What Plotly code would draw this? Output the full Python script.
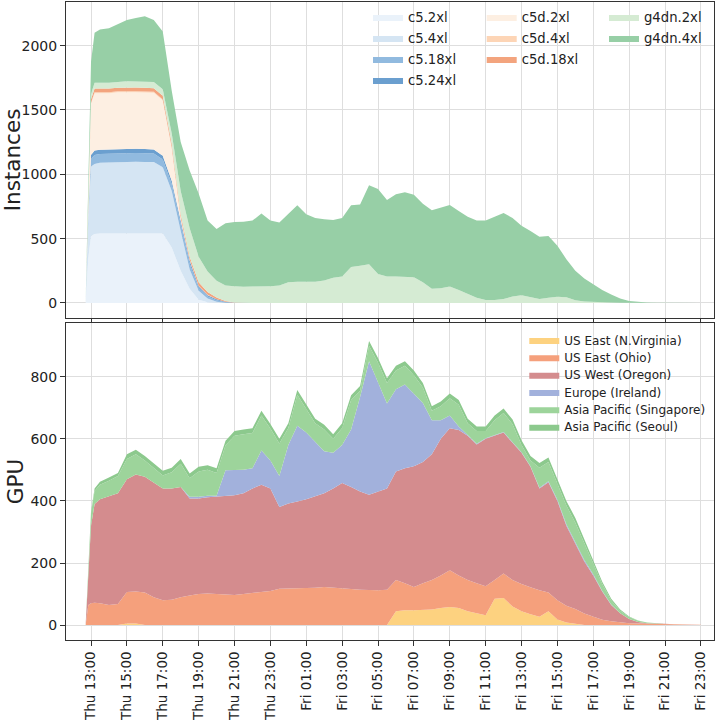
import pandas as pd
import plotly.graph_objects as go

# ---------------- data ----------------
HOURS = [12.7, 12.85, 13.0, 13.2, 13.5,
         14.0, 14.5, 15.0, 15.5, 16.0, 16.5, 17.0, 17.5, 18.0, 18.5,
         19.0, 19.5, 20.0, 20.5, 21.0, 21.5, 22.0, 22.5, 23.0, 23.5,
         24.0, 24.5, 25.0, 25.5, 26.0, 26.5, 27.0, 27.5, 28.0, 28.5,
         29.0, 29.5, 30.0, 30.5, 31.0, 31.5, 32.0, 32.5, 33.0, 33.5,
         34.0, 34.5, 35.0, 35.5, 36.0, 36.5, 37.0, 37.5, 38.0, 38.5,
         39.0, 39.5, 40.0, 40.5, 41.0, 41.5, 42.0, 42.5, 43.0, 43.5,
         44.0, 44.5, 45.0, 45.5, 46.0, 46.5, 47.0]
BASE = pd.Timestamp("2020-11-19")  # a Thursday
TIMES = BASE + pd.to_timedelta(HOURS, unit="h")

INSTANCE_TYPES = ["c5.2xl", "c5.4xl", "c5.18xl", "c5.24xl",
                  "c5d.2xl", "c5d.4xl", "c5d.18xl", "g4dn.2xl", "g4dn.4xl"]

C5_2XL = [0, 350, 520, 535, 540,
          540, 542, 543, 542, 540, 540, 540, 430, 250, 110,
          25, 5, 0, 0, 0, 0, 0, 0, 0, 0,
          0, 0, 0, 0, 0, 0, 0, 0, 0, 0,
          0, 0, 0, 0, 0, 0, 0, 0, 0, 0,
          0, 0, 0, 0, 0, 0, 0, 0, 0, 0,
          0, 0, 0, 0, 0, 0, 0, 0, 0, 0,
          0, 0, 0, 0, 0, 0, 0]
C5_4XL = [0, 300, 540, 545, 550,
          552, 555, 555, 556, 556, 555, 515, 440, 310, 150,
          70, 30, 10, 2, 0, 0, 0, 0, 0, 0,
          0, 0, 0, 0, 0, 0, 0, 0, 0, 0,
          0, 0, 0, 0, 0, 0, 0, 0, 0, 0,
          0, 0, 0, 0, 0, 0, 0, 0, 0, 0,
          0, 0, 0, 0, 0, 0, 0, 0, 0, 0,
          0, 0, 0, 0, 0, 0, 0]
C5_18XL = [0, 30, 60, 70, 68,
           68, 68, 68, 68, 68, 66, 60, 55, 55, 45,
           22, 15, 10, 4, 1, 0, 0, 0, 0, 0,
           0, 0, 0, 0, 0, 0, 0, 0, 0, 0,
           0, 0, 0, 0, 0, 0, 0, 0, 0, 0,
           0, 0, 0, 0, 0, 0, 0, 0, 0, 0,
           0, 0, 0, 0, 0, 0, 0, 0, 0, 0,
           0, 0, 0, 0, 0, 0, 0]
C5_24XL = [0, 15, 30, 35, 32,
           32, 32, 32, 32, 32, 32, 30, 25, 25, 25,
           13, 10, 8, 3, 1, 0, 0, 0, 0, 0,
           0, 0, 0, 0, 0, 0, 0, 0, 0, 0,
           0, 0, 0, 0, 0, 0, 0, 0, 0, 0,
           0, 0, 0, 0, 0, 0, 0, 0, 0, 0,
           0, 0, 0, 0, 0, 0, 0, 0, 0, 0,
           0, 0, 0, 0, 0, 0, 0]
C5D_2XL = [0, 150, 400, 445, 440,
           438, 440, 442, 440, 440, 440, 430, 255, 20, 5,
           2, 1, 0, 0, 0, 0, 0, 0, 0, 0,
           0, 0, 0, 0, 0, 0, 0, 0, 0, 0,
           0, 0, 0, 0, 0, 0, 0, 0, 0, 0,
           0, 0, 0, 0, 0, 0, 0, 0, 0, 0,
           0, 0, 0, 0, 0, 0, 0, 0, 0, 0,
           0, 0, 0, 0, 0, 0, 0]
C5D_4XL = [0, 3, 8, 8, 8,
           8, 8, 8, 8, 8, 8, 7, 5, 4, 3,
           2, 2, 0, 0, 0, 0, 0, 0, 0, 0,
           0, 0, 0, 0, 0, 0, 0, 0, 0, 0,
           0, 0, 0, 0, 0, 0, 0, 0, 0, 0,
           0, 0, 0, 0, 0, 0, 0, 0, 0, 0,
           0, 0, 0, 0, 0, 0, 0, 0, 0, 0,
           0, 0, 0, 0, 0, 0, 0]
C5D_18XL = [0, 10, 25, 28, 28,
            28, 28, 28, 28, 28, 28, 28, 27, 26, 22,
            26, 22, 14, 6, 2, 0, 0, 0, 0, 0,
            0, 0, 0, 0, 0, 0, 0, 0, 0, 0,
            0, 0, 0, 0, 0, 0, 0, 0, 0, 0,
            0, 0, 0, 0, 0, 0, 0, 0, 0, 0,
            0, 0, 0, 0, 0, 0, 0, 0, 0, 0,
            0, 0, 0, 0, 0, 0, 0]
G4DN_2XL = [0, 15, 40, 45, 45,
            45, 45, 47, 48, 48, 48, 50, 80, 180, 220,
            200, 160, 130, 120, 125, 125, 128, 128, 130, 135,
            160, 165, 165, 165, 175, 195, 205, 280, 290, 300,
            225, 205, 205, 205, 200, 160, 110, 115, 127, 100,
            70, 40, 23, 23, 30, 50, 60, 45, 30, 40,
            48, 45, 20, 12, 8, 5, 3, 2, 1, 0,
            0, 0, 0, 0, 0, 0, 0]
G4DN_4XL = [0, 30, 250, 389, 414,
            424, 447, 477, 493, 508, 483, 450, 333, 380, 450,
            490, 395, 403, 485, 501, 507, 512, 567, 510, 490,
            530, 595, 525, 495, 475, 450, 455, 480, 475, 615,
            660, 595, 640, 655, 640, 610, 610, 625, 635, 615,
            600, 600, 617, 647, 670, 610, 540, 515, 485, 480,
            397, 295, 230, 178, 137, 95, 62, 33, 15, 8,
            3, 2, 1, 1, 0, 0, 0]

REGIONS = ["US East (N.Virginia)", "US East (Ohio)", "US West (Oregon)",
           "Europe (Ireland)", "Asia Pacific (Singapore)", "Asia Pacific (Seoul)"]

GPU_NVIRGINIA = [0, 0, 0, 0, 0,
                 0, 0, 5, 5, 0, 0, 0, 0, 0, 0,
                 0, 0, 0, 0, 0, 0, 0, 0, 0, 0,
                 0, 0, 0, 0, 0, 0, 0, 0, 0, 0,
                 0, 0, 45, 48, 48, 48, 50, 55, 58, 55,
                 45, 38, 32, 85, 87, 60, 45, 35, 27, 45,
                 18, 8, 3, 0, 0, 0, 0, 0, 0, 0,
                 0, 0, 0, 0, 0, 0, 0]
GPU_OHIO = [0, 65, 70, 72, 70,
            65, 68, 102, 103, 105, 90, 80, 82, 90, 95,
            100, 102, 100, 98, 97, 100, 103, 107, 110, 117,
            118, 118, 118, 120, 123, 120, 118, 116, 114, 112,
            112, 114, 100, 87, 75, 87, 95, 105, 119, 105,
            100, 97, 93, 60, 79, 85, 87, 87, 85, 60,
            62, 54, 49, 37, 27, 17, 12, 8, 6, 5,
            4, 3, 3, 2, 2, 1.5, 1]
GPU_OREGON = [0, 90, 250, 318, 335,
              350, 357, 363, 377, 373, 370, 360, 358, 355, 313,
              308, 310, 314, 316, 321, 325, 337, 345, 330, 263,
              274, 280, 287, 295, 302, 320, 340, 329, 316, 308,
              318, 326, 350, 370, 389, 390, 405, 440, 457, 468,
              465, 447, 475, 465, 454, 442, 423, 388, 328, 355,
              320, 258, 210, 168, 133, 91, 53, 30, 14, 5,
              2, 1, 1, 1, 0.5, 0, 0]
GPU_IRELAND = [0, 0, 0, 0, 0,
               0, 0, 0, 0, 0, 0, 0, 0, 0, 5,
               5, 5, 3, 85, 82, 75, 65, 110, 90, 100,
               188, 244, 215, 175, 135, 115, 122, 185, 305, 430,
               350, 274, 265, 270, 233, 190, 110, 60, 41, 12,
               2, 2, 2, 2, 2, 2, 2, 2, 2, 3,
               4, 5, 6, 5, 4, 2, 1, 0, 0, 0,
               0, 0, 0, 0, 0, 0, 0]
GPU_SINGAPORE = [0, 40, 40, 42, 47,
                 50, 55, 65, 65, 52, 45, 42, 52, 75, 60,
                 82, 83, 73, 80, 110, 115, 114, 113, 103, 105,
                 55, 100, 75, 60, 70, 45, 55, 95, 20, 50,
                 65, 66, 60, 60, 60, 50, 30, 45, 56, 70,
                 38, 41, 23, 48, 61, 58, 23, 18, 65, 62,
                 51, 60, 62, 52, 36, 22, 13, 8, 6, 4,
                 2, 1, 0, 0, 0, 0, 0]
GPU_SEOUL = [0, 5, 5, 8, 10,
             10, 10, 15, 15, 15, 15, 15, 15, 15, 15,
             15, 15, 15, 15, 15, 15, 15, 15, 15, 15,
             15, 15, 15, 15, 15, 15, 15, 15, 15, 15,
             15, 15, 15, 15, 15, 15, 15, 15, 15, 15,
             15, 15, 15, 15, 15, 15, 15, 15, 15, 15,
             15, 15, 15, 13, 10, 8, 6, 4, 2, 1,
             0, 0, 0, 0, 0, 0, 0]

INSTANCE_SERIES = [C5_2XL, C5_4XL, C5_18XL, C5_24XL,
                   C5D_2XL, C5D_4XL, C5D_18XL, G4DN_2XL, G4DN_4XL]
GPU_SERIES = [GPU_NVIRGINIA, GPU_OHIO, GPU_OREGON,
              GPU_IRELAND, GPU_SINGAPORE, GPU_SEOUL]

# ---------------- style ----------------
INSTANCE_COLORS = ["#eaf2fa", "#d5e5f3", "#91badf", "#6b9fcf",
                   "#fdefe2", "#fdd5b6", "#f3a47e", "#d5ebd3", "#97cfa6"]
GPU_COLORS = ["#fdd280", "#f5a07c", "#d48c8e", "#a2b1dc", "#9dd49b", "#8cc98d"]

FONT = "DejaVu Sans"
GRID = "#dedede"
AXC = "#333333"
W, H = 717, 720
L, R, T, B = 66, 3, 2, 80
PW, PH = W - L - R, H - T - B


def ypaper(py):
    return (H - B - py) / PH


def legend_at(text_x, row_y, size):
    return dict(x=(text_x - 40 - L) / PW, y=ypaper(row_y), xanchor="left",
                yanchor="middle", bgcolor="rgba(0,0,0,0)", borderwidth=0,
                font=dict(family=FONT, size=size, color="#222222"),
                itemwidth=30, visible=True)


fig = go.Figure()
layout_legends = {}
n = 0

top_cols = [408, 521.7, 644]
top_rows = [17.3, 38.3, 59.3, 80.3]
top_pos = [(0, 0), (0, 1), (0, 2), (0, 3), (1, 0), (1, 1), (1, 2), (2, 0), (2, 1)]
for name, vals, color, (c, r) in zip(INSTANCE_TYPES, INSTANCE_SERIES, INSTANCE_COLORS, top_pos):
    n += 1
    lid = "legend" if n == 1 else f"legend{n}"
    layout_legends[lid] = legend_at(top_cols[c], top_rows[r], 13.2)
    fig.add_trace(go.Scatter(x=TIMES, y=vals, name=name, mode="lines",
                             stackgroup="inst", line=dict(width=0, color=color),
                             fillcolor=color, xaxis="x", yaxis="y", legend=lid,
                             showlegend=True, hoverinfo="skip"))

for i, (name, vals, color) in enumerate(zip(REGIONS, GPU_SERIES, GPU_COLORS)):
    n += 1
    lid = f"legend{n}"
    layout_legends[lid] = legend_at(564.3, 340 + 17.34 * i, 12)
    fig.add_trace(go.Scatter(x=TIMES, y=vals, name=name, mode="lines",
                             stackgroup="gpu", line=dict(width=0, color=color),
                             fillcolor=color, xaxis="x2", yaxis="y2", legend=lid,
                             showlegend=True, hoverinfo="skip"))

xr = [BASE + pd.Timedelta(hours=11.606), BASE + pd.Timedelta(hours=47.73)]
tickfont = dict(family=FONT, size=14, color="#222222")
xtickfont = dict(family=FONT, size=13.5, color="#222222")
xcommon = dict(type="date", range=xr, tick0=BASE + pd.Timedelta(hours=13),
               dtick=2 * 3600 * 1000, showgrid=True, gridcolor=GRID, gridwidth=1,
               ticks="outside", ticklen=5, tickwidth=1, tickcolor=AXC,
               showline=True, linecolor=AXC, linewidth=1, mirror=True,
               zeroline=False, tickfont=xtickfont, automargin=False)
ycommon = dict(showgrid=True, gridcolor=GRID, gridwidth=1, ticks="outside",
               ticklen=5, tickwidth=1, tickcolor=AXC, showline=True,
               linecolor=AXC, linewidth=1, mirror=True, zeroline=False,
               tickfont=tickfont, automargin=False)

top_dom = [ypaper(318), 1.0]
bot_dom = [0.0, ypaper(323)]

fig.update_layout(
    width=W, height=H,
    margin=dict(l=L, r=R, t=T, b=B, autoexpand=False),
    paper_bgcolor="white", plot_bgcolor="white",
    showlegend=True,
    font=dict(family=FONT, color="#222222"),
    xaxis=dict(xcommon, domain=[0, 1], anchor="y", showticklabels=False),
    yaxis=dict(ycommon, domain=top_dom, anchor="x", range=[-117, 2339],
               tick0=0, dtick=500,
               title=dict(text="Instances", font=dict(family=FONT, size=21.5),
                          standoff=5)),
    xaxis2=dict(xcommon, domain=[0, 1], anchor="y2", matches="x",
                tickformat="%a %H:%M", tickangle=-90),
    yaxis2=dict(ycommon, domain=bot_dom, anchor="x2", range=[-48, 973],
                tick0=0, dtick=200,
                title=dict(text="GPU", font=dict(family=FONT, size=21.5),
                           standoff=0)),
    shapes=[
        dict(type="rect", xref="x domain", yref="y domain", layer="below",
             x0=(358 - L) / PW, x1=(708 - L) / PW,
             y0=(318 - 91) / 316, y1=(318 - 5) / 316,
             fillcolor="white", line=dict(width=0)),
        dict(type="rect", xref="x2 domain", yref="y2 domain", layer="below",
             x0=(519 - L) / PW, x1=(708 - L) / PW,
             y0=(640 - 437) / 317, y1=(640 - 328) / 317,
             fillcolor="white", line=dict(width=0)),
    ],
    **layout_legends,
)

fig.write_html("out.html",
               config={"displayModeBar": False},
               post_script="document.body.style.margin='0';"
                           "document.body.style.overflow='hidden';")
